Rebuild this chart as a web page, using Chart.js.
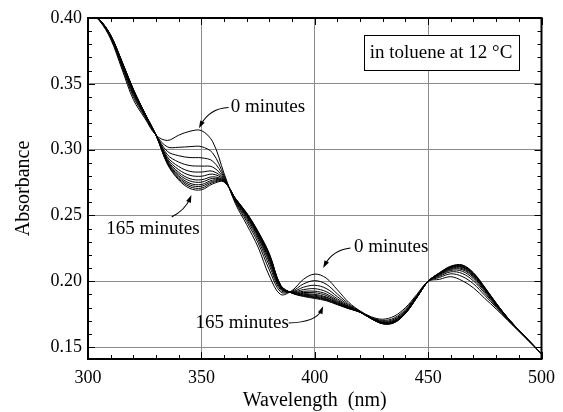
<html>
<head>
<meta charset="utf-8">
<style>
  html, body { margin: 0; padding: 0; background: #fff; }
  #wrap { width: 563px; height: 412px; }
</style>
<script src="https://cdn.jsdelivr.net/npm/chart.js@4.4.1/dist/chart.umd.min.js"></script>
<script type="text/javascript">

// wavelength grid (nm)
var wavelengths = [300,305,310,315,320,325,330,335,340,345,350,355,360,365,370,375,380,385,390,395,
                   400,405,410,415,420,425,430,435,440,445,450,455,460,465,470,475,480,485,490,495,500];

// absorbance, one array per time (0, 15, ... 165 minutes)
var min0   = [0.405,0.398,0.384,0.361,0.338,0.324,0.311,0.307,0.311,0.314,0.3145,0.306,0.282,0.259,0.243,0.226,0.204,0.190,0.193,0.2015,
              0.2055,0.2025,0.1935,0.184,0.1775,0.173,0.1712,0.1735,0.180,0.190,0.200,0.2015,0.2035,0.2005,0.195,0.187,0.179,0.1705,0.162,0.1535,0.145];
var min15  = [0.405,0.3983,0.3848,0.3626,0.3402,0.3251,0.311,0.3021,0.3018,0.3023,0.3023,0.2974,0.2802,0.2601,0.2454,0.2292,0.2086,0.1919,0.1925,0.198,
              0.2005,0.1979,0.1904,0.1827,0.1772,0.1726,0.1703,0.1721,0.1788,0.1893,0.200,0.2029,0.2057,0.2037,0.1981,0.1893,0.1802,0.171,0.1623,0.1536,0.145];
var min30  = [0.405,0.3985,0.3854,0.3638,0.3417,0.3258,0.311,0.2987,0.2954,0.294,0.2938,0.2913,0.279,0.2608,0.2471,0.2315,0.2118,0.1932,0.1921,0.1955,
              0.197,0.1946,0.1883,0.1818,0.177,0.1723,0.1696,0.1712,0.1779,0.1888,0.200,0.2038,0.2072,0.206,0.2003,0.1909,0.1811,0.1714,0.1625,0.1537,0.145];
var min45  = [0.405,0.3986,0.3858,0.3646,0.3428,0.3264,0.311,0.2962,0.2906,0.2879,0.2875,0.2868,0.2781,0.2614,0.2484,0.2332,0.2142,0.1942,0.1918,0.1937,
              0.1944,0.1922,0.1867,0.1811,0.1769,0.1721,0.1691,0.1705,0.1773,0.1885,0.200,0.2045,0.2083,0.2077,0.2019,0.1921,0.1817,0.1717,0.1626,0.1538,0.145];
var min60  = [0.405,0.3987,0.3861,0.3652,0.3436,0.3268,0.311,0.2944,0.2872,0.2835,0.283,0.2836,0.2774,0.2618,0.2493,0.2344,0.2159,0.1949,0.1916,0.1924,
              0.1925,0.1905,0.1856,0.1806,0.1768,0.172,0.1687,0.170,0.1768,0.1882,0.200,0.205,0.2091,0.2089,0.2031,0.193,0.1822,0.1719,0.1627,0.1538,0.145];
var min75  = [0.405,0.3988,0.3863,0.3656,0.3442,0.3271,0.311,0.2931,0.2848,0.2805,0.2798,0.2814,0.277,0.2621,0.2499,0.2352,0.2171,0.1954,0.1915,0.1915,
              0.1913,0.1893,0.1848,0.1803,0.1767,0.1718,0.1685,0.1696,0.1765,0.1881,0.200,0.2054,0.2097,0.2097,0.2039,0.1935,0.1825,0.172,0.1628,0.1539,0.145];
var min90  = [0.405,0.3988,0.3865,0.366,0.3446,0.3273,0.311,0.2921,0.2828,0.2779,0.2771,0.2794,0.2766,0.2623,0.2505,0.236,0.2181,0.1958,0.1913,0.1907,
              0.1901,0.1882,0.1841,0.180,0.1767,0.1718,0.1683,0.1693,0.1763,0.1879,0.200,0.2057,0.2101,0.2105,0.2045,0.1941,0.1827,0.1722,0.1628,0.1539,0.145];
var min105 = [0.405,0.3989,0.3866,0.3662,0.345,0.3275,0.311,0.2913,0.2814,0.2762,0.2753,0.2782,0.2763,0.2625,0.2508,0.2364,0.2188,0.1961,0.1913,0.1902,
              0.1894,0.1875,0.1837,0.1798,0.1766,0.1717,0.1682,0.1691,0.1761,0.1878,0.200,0.2059,0.2105,0.2109,0.205,0.1944,0.1829,0.1722,0.1629,0.1539,0.145];
var min120 = [0.405,0.3989,0.3867,0.3665,0.3453,0.3276,0.311,0.2906,0.2801,0.2744,0.2735,0.2769,0.2761,0.2626,0.2512,0.2369,0.2195,0.1964,0.1912,0.1897,
              0.1887,0.1868,0.1832,0.1796,0.1766,0.1716,0.168,0.1689,0.1759,0.1877,0.200,0.2061,0.2108,0.2114,0.2055,0.1947,0.1831,0.1723,0.1629,0.154,0.145];
var min135 = [0.405,0.3989,0.3868,0.3666,0.3455,0.3278,0.311,0.2901,0.279,0.2731,0.2722,0.2759,0.2759,0.2628,0.2515,0.2373,0.220,0.1966,0.1911,0.1893,
              0.1881,0.1863,0.1829,0.1795,0.1766,0.1716,0.1679,0.1688,0.1758,0.1876,0.200,0.2062,0.211,0.2118,0.2058,0.195,0.1832,0.1724,0.1629,0.154,0.145];
var min150 = [0.405,0.399,0.3869,0.3668,0.3458,0.3279,0.311,0.2895,0.278,0.2718,0.2708,0.275,0.2757,0.2629,0.2517,0.2376,0.2205,0.1968,0.1911,0.1889,
              0.1876,0.1858,0.1825,0.1793,0.1765,0.1715,0.1678,0.1686,0.1756,0.1876,0.200,0.2064,0.2113,0.2121,0.2062,0.1952,0.1834,0.1724,0.163,0.154,0.145];
var min165 = [0.405,0.399,0.387,0.367,0.346,0.328,0.311,0.289,0.277,0.2705,0.2695,0.274,0.2755,0.263,0.252,0.238,0.221,0.197,0.191,0.1885,
              0.187,0.1853,0.1822,0.1792,0.1765,0.1715,0.1677,0.1685,0.1755,0.1875,0.200,0.2065,0.2115,0.2125,0.2065,0.1955,0.1835,0.1725,0.163,0.154,0.145];

var series = [min0,min15,min30,min45,min60,min75,min90,min105,min120,min135,min150,min165];

var xTicks = [300,350,400,450,500];
var yTicks = [0.15,0.20,0.25,0.30,0.35,0.40];

var serif = '"Liberation Serif", "Times New Roman", serif';

// labels with arrows, in data units (wavelength, absorbance)
var notes = [
  { text: '0 minutes',   align: 'left',   x: 362.9, y: 0.3324,
    from: [362.0,0.3320], ctrl: [353.7,0.3314], to: [348.9,0.3162] },
  { text: '165 minutes', align: 'center', x: 328.6, y: 0.2397,
    from: [336.9,0.2489], ctrl: [342.9,0.2542], to: [345.6,0.2656] },
  { text: '0 minutes',   align: 'left',   x: 417.3, y: 0.2263,
    from: [415.8,0.2253], ctrl: [408.0,0.2238], to: [403.7,0.2101] },
  { text: '165 minutes', align: 'center', x: 368.0, y: 0.1681,
    from: [388.5,0.1683], ctrl: [400.7,0.1690], to: [403.7,0.1811] }
];

var decor = {
  id: 'decor',
  afterDatasetsDraw: function (chart) {
    var ctx = chart.ctx, a = chart.chartArea;
    var xs = chart.scales.x, ys = chart.scales.y;
    var i, v, p, len;
    ctx.save();
    ctx.strokeStyle = '#000';
    ctx.fillStyle = '#000';

    // inward ticks on all four sides
    ctx.lineWidth = 1;
    ctx.beginPath();
    for (i = 0; i <= 20; i++) {
      v = 300 + i * 10;
      p = Math.round(xs.getPixelForValue(v)) + 0.5;
      len = (i % 5 === 0) ? 7 : 4;
      ctx.moveTo(p, a.bottom); ctx.lineTo(p, a.bottom - len);
      ctx.moveTo(p, a.top); ctx.lineTo(p, a.top + len);
    }
    for (i = 0; i <= 25; i++) {
      v = 0.15 + i * 0.01;
      p = Math.round(ys.getPixelForValue(v)) + 0.5;
      len = (i % 5 === 0) ? 7 : 4;
      ctx.moveTo(a.left, p); ctx.lineTo(a.left + len, p);
      ctx.moveTo(a.right, p); ctx.lineTo(a.right - len, p);
    }
    ctx.stroke();

    // frame
    ctx.lineWidth = 2;
    ctx.strokeRect(a.left, a.top, a.right - a.left, a.bottom - a.top);

    // annotations
    ctx.font = '19px ' + serif;
    ctx.textBaseline = 'middle';
    ctx.lineWidth = 1.1;
    notes.forEach(function (n) {
      ctx.textAlign = n.align;
      ctx.fillText(n.text, xs.getPixelForValue(n.x), ys.getPixelForValue(n.y));
      var x0 = xs.getPixelForValue(n.from[0]), y0 = ys.getPixelForValue(n.from[1]);
      var cx = xs.getPixelForValue(n.ctrl[0]), cy = ys.getPixelForValue(n.ctrl[1]);
      var x1 = xs.getPixelForValue(n.to[0]), y1 = ys.getPixelForValue(n.to[1]);
      var ang = Math.atan2(y1 - cy, x1 - cx);
      var hl = 8;
      // stop the shaft a bit before the head
      ctx.beginPath();
      ctx.moveTo(x0, y0);
      ctx.quadraticCurveTo(cx, cy, x1 - Math.cos(ang) * 4, y1 - Math.sin(ang) * 4);
      ctx.stroke();
      ctx.beginPath();
      ctx.moveTo(x1, y1);
      ctx.lineTo(x1 - hl * Math.cos(ang - 0.32), y1 - hl * Math.sin(ang - 0.32));
      ctx.lineTo(x1 - hl * Math.cos(ang + 0.32), y1 - hl * Math.sin(ang + 0.32));
      ctx.closePath();
      ctx.fill();
    });

    // condition box, top right
    var bw = 155, bh = 35;
    var bx = a.right - 23 - bw, by = a.top + 17;
    ctx.fillStyle = '#fff';
    ctx.fillRect(bx, by, bw, bh);
    ctx.lineWidth = 1;
    ctx.strokeRect(Math.round(bx) + 0.5, Math.round(by) + 0.5, bw, bh);
    ctx.fillStyle = '#000';
    ctx.textAlign = 'center';
    ctx.fillText('in toluene at 12 \u00B0C', bx + bw / 2, by + bh / 2 + 1);

    ctx.restore();
  }
};

function init() {
  var datasets = series.map(function (s) {
    return {
      data: wavelengths.map(function (w, i) { return { x: w, y: s[i] }; }),
      borderColor: '#000',
      borderWidth: 1,
      pointRadius: 0,
      fill: false,
      tension: 0.35
    };
  });

  var ctx = document.getElementById('canvasDiv');
  new Chart(ctx, {
    type: 'line',
    data: { datasets: datasets },
    options: {
      responsive: false,
      animation: false,
      devicePixelRatio: 1,
      layout: { padding: { top: 18, right: 14, left: 0, bottom: 0 } },
      plugins: { legend: { display: false }, tooltip: { enabled: false } },
      scales: {
        x: {
          type: 'linear',
          min: 300, max: 500,
          afterBuildTicks: function (s) { s.ticks = xTicks.map(function (v) { return { value: v }; }); },
          afterFit: function (s) { s.height = 53; },
          grid: { color: '#8c8c8c', lineWidth: 1, drawTicks: false },
          border: { display: false },
          ticks: { padding: 8, color: '#000', font: { family: serif, size: 18 },
                   callback: function (v) { return String(v); } },
          title: { display: true, text: 'Wavelength  (nm)', color: '#000',
                   font: { family: serif, size: 20, lineHeight: 1.1 }, padding: { top: 0, bottom: 0 } }
        },
        y: {
          min: 0.141, max: 0.40,
          afterBuildTicks: function (s) { s.ticks = yTicks.map(function (v) { return { value: v }; }); },
          afterFit: function (s) { s.width = 88; },
          grid: { color: '#8c8c8c', lineWidth: 1, drawTicks: false },
          border: { display: false },
          ticks: { padding: 6, color: '#000', font: { family: serif, size: 18 },
                   callback: function (v) { return v.toFixed(2); } },
          title: { display: true, text: 'Absorbance', color: '#000',
                   font: { family: serif, size: 20, lineHeight: 1.2 }, padding: { top: 12, bottom: 0 } }
        }
      }
    },
    plugins: [decor]
  });
}
</script>
</head>
<body onload="init()">
<div id="wrap">
  <canvas id="canvasDiv" width="563" height="412"></canvas>
</div>
</body>
</html>
